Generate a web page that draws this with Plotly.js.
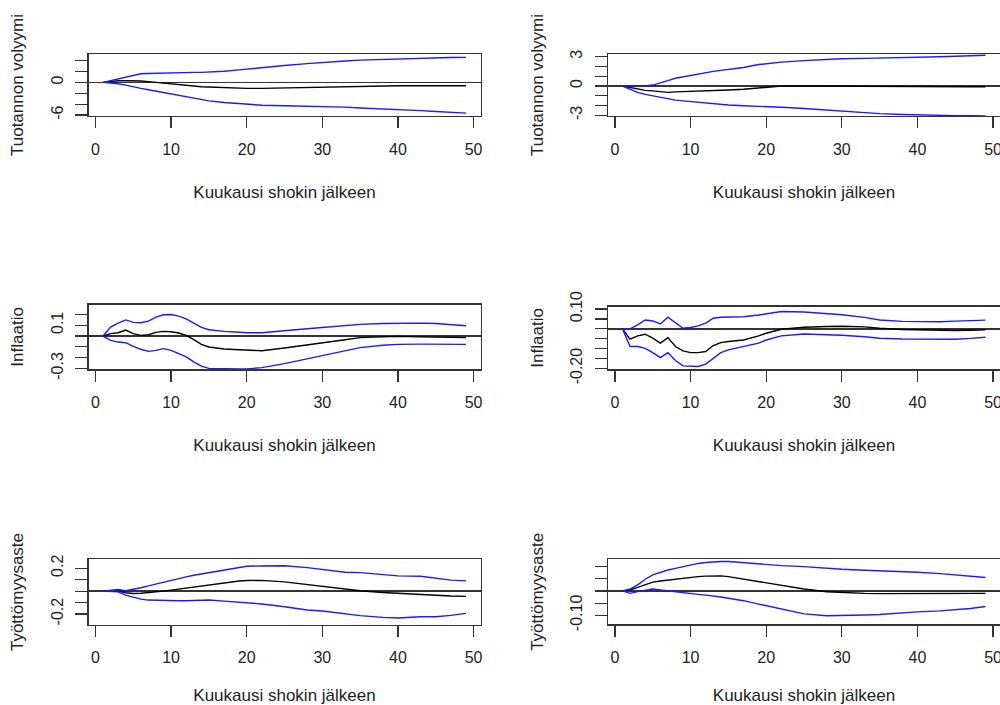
<!DOCTYPE html>
<html>
<head>
<meta charset="utf-8">
<script src="https://cdn.plot.ly/plotly-3.0.1.min.js"></script>
<style>html,body{margin:0;padding:0;background:#fff;}#chart{width:1000px;height:705px;}</style>
</head>
<body>
<div id="chart"></div>
<script>
// Months after the shock at which values were read
const months = [1,2,3,4,5,6,7,8,9,10,11,12,13,14,15,17,19,20,22,25,28,30,33,35,38,40,43,45,47,49];

// Panel 1: Tuotannon volyymi (left)
const up1  = [0,0.3,0.6,1.0,1.3,1.6,1.65,1.7,1.7,1.7,1.75,1.8,1.85,1.85,1.9,2.05,2.3,2.45,2.7,3.1,3.45,3.7,3.95,4.1,4.25,4.35,4.5,4.55,4.58,4.6];
const irf1 = [0,0.15,0.3,0.3,0.3,0.25,0.15,0.0,-0.15,-0.3,-0.45,-0.6,-0.7,-0.8,-0.85,-1.0,-1.1,-1.1,-1.1,-1.0,-0.9,-0.8,-0.75,-0.7,-0.65,-0.6,-0.6,-0.6,-0.6,-0.6];
const lo1  = [0,-0.1,-0.25,-0.5,-0.85,-1.1,-1.35,-1.6,-1.9,-2.2,-2.45,-2.7,-2.95,-3.2,-3.4,-3.7,-3.95,-4.05,-4.2,-4.3,-4.35,-4.4,-4.55,-4.7,-4.85,-5.0,-5.2,-5.35,-5.5,-5.65];

// Panel 2: Tuotannon volyymi (right)
const up2  = [0,0,0,0,0.1,0.3,0.55,0.8,0.95,1.1,1.25,1.4,1.5,1.6,1.7,1.9,2.2,2.3,2.45,2.6,2.72,2.8,2.83,2.85,2.9,2.95,3.0,3.05,3.1,3.15];
const irf2 = [0,-0.17,-0.34,-0.45,-0.5,-0.55,-0.65,-0.6,-0.58,-0.55,-0.52,-0.5,-0.45,-0.42,-0.4,-0.33,-0.2,-0.1,0.0,0.0,-0.02,-0.03,-0.04,-0.05,-0.05,-0.06,-0.06,-0.07,-0.07,-0.07];
const lo2  = [0,-0.34,-0.65,-0.85,-1.0,-1.2,-1.37,-1.45,-1.52,-1.6,-1.68,-1.76,-1.84,-1.9,-1.95,-2.02,-2.07,-2.1,-2.18,-2.3,-2.45,-2.6,-2.74,-2.83,-2.92,-2.97,-3.0,-3.03,-3.05,-3.07];

// Panel 3: Inflaatio (left)
const up3  = [0,0.083,0.12,0.15,0.127,0.123,0.139,0.176,0.198,0.2,0.185,0.16,0.12,0.08,0.059,0.043,0.035,0.031,0.031,0.052,0.068,0.08,0.097,0.108,0.117,0.12,0.12,0.117,0.11,0.096];
const irf3 = [0,0.022,0.031,0.056,0.022,0.006,0.012,0.034,0.043,0.04,0.028,0.006,-0.034,-0.077,-0.102,-0.12,-0.128,-0.13,-0.136,-0.111,-0.085,-0.065,-0.035,-0.015,-0.006,-0.003,-0.008,-0.012,-0.014,-0.015];
const lo3  = [0,-0.04,-0.056,-0.062,-0.096,-0.123,-0.142,-0.133,-0.117,-0.133,-0.164,-0.194,-0.24,-0.28,-0.3,-0.306,-0.306,-0.306,-0.293,-0.256,-0.21,-0.18,-0.135,-0.108,-0.085,-0.077,-0.075,-0.076,-0.077,-0.077];

// Panel 4: Inflaatio (right)
const up4  = [0,0,0.02,0.045,0.04,0.025,0.059,0.032,0.003,0.007,0.015,0.029,0.054,0.059,0.06,0.061,0.07,0.076,0.088,0.085,0.076,0.071,0.058,0.045,0.038,0.037,0.036,0.039,0.042,0.044];
const irf4 = [0,-0.052,-0.035,-0.027,-0.047,-0.072,-0.044,-0.089,-0.111,-0.12,-0.12,-0.114,-0.084,-0.069,-0.064,-0.056,-0.035,-0.022,-0.002,0.008,0.012,0.013,0.01,0.003,-0.003,-0.005,-0.007,-0.008,-0.007,-0.005];
const lo4  = [0,-0.089,-0.089,-0.098,-0.12,-0.145,-0.12,-0.16,-0.187,-0.19,-0.19,-0.178,-0.148,-0.12,-0.106,-0.089,-0.072,-0.056,-0.035,-0.026,-0.028,-0.032,-0.04,-0.047,-0.051,-0.052,-0.052,-0.052,-0.048,-0.042];

// Panel 5: Työttömyysaste (left)
const up5  = [0,0.009,0.014,0.003,0.014,0.03,0.046,0.063,0.08,0.096,0.11,0.125,0.139,0.15,0.162,0.188,0.206,0.217,0.22,0.222,0.205,0.188,0.165,0.162,0.148,0.133,0.13,0.11,0.096,0.09];
const irf5 = [0,0.003,0.0,-0.014,-0.02,-0.018,-0.014,-0.008,0.0,0.009,0.018,0.028,0.038,0.048,0.058,0.072,0.088,0.093,0.094,0.081,0.058,0.043,0.017,0.003,-0.012,-0.02,-0.032,-0.038,-0.043,-0.046];
const lo5  = [0,0.0,-0.006,-0.035,-0.055,-0.07,-0.078,-0.081,-0.083,-0.084,-0.084,-0.084,-0.084,-0.081,-0.078,-0.087,-0.097,-0.101,-0.112,-0.136,-0.165,-0.174,-0.2,-0.214,-0.229,-0.235,-0.223,-0.223,-0.212,-0.194];

// Panel 6: Työttömyysaste (right)
const up6  = [0,0.008,0.025,0.048,0.066,0.077,0.086,0.093,0.1,0.107,0.113,0.117,0.12,0.121,0.121,0.116,0.11,0.107,0.104,0.1,0.093,0.089,0.085,0.083,0.079,0.077,0.071,0.066,0.06,0.055];
const irf6 = [0,0.004,0.015,0.027,0.036,0.041,0.045,0.049,0.052,0.055,0.059,0.061,0.063,0.062,0.059,0.049,0.04,0.034,0.024,0.008,-0.003,-0.007,-0.01,-0.011,-0.011,-0.011,-0.011,-0.011,-0.01,-0.01];
const lo6  = [0,-0.01,-0.003,0.004,0.008,0.004,0.0,-0.003,-0.006,-0.01,-0.014,-0.017,-0.02,-0.025,-0.03,-0.04,-0.054,-0.061,-0.075,-0.094,-0.102,-0.102,-0.099,-0.097,-0.089,-0.086,-0.082,-0.078,-0.072,-0.064];

// Axis ticks and labels
const xTicks = [0,10,20,30,40,50];
const xTitle = "Kuukausi shokin jälkeen";
const yTitles = ["Tuotannon volyymi","Tuotannon volyymi","Inflaatio","Inflaatio","Työttömyysaste","Työttömyysaste"];
const yTicks1 = [-6,-4,-2,0,2,4];            const yText1 = ["-6","","","0","",""];
const yTicks2 = [-3,-2,-1,0,1,2,3];          const yText2 = ["-3","","","0","","","3"];
const yTicks3 = [-0.3,-0.2,-0.1,0,0.1,0.2];  const yText3 = ["-0.3","","","","0.1",""];
const yTicks4 = [-0.2,-0.15,-0.1,-0.05,0,0.05,0.1]; const yText4 = ["-0.20","","","","","","0.10"];
const yTicks5 = [-0.2,-0.1,0,0.1,0.2];       const yText5 = ["-0.2","","","","0.2"];
const yTicks6 = [-0.1,-0.05,0,0.05,0.1];     const yText6 = ["-0.10","","","",""];

const panels = [
  {up: up1, irf: irf1, lo: lo1, tv: yTicks1, tt: yText1, yr: [-6.18, 5.23]},
  {up: up2, irf: irf2, lo: lo2, tv: yTicks2, tt: yText2, yr: [-3.07, 3.28]},
  {up: up3, irf: irf3, lo: lo3, tv: yTicks3, tt: yText3, yr: [-0.309, 0.293]},
  {up: up4, irf: irf4, lo: lo4, tv: yTicks4, tt: yText4, yr: [-0.204, 0.113]},
  {up: up5, irf: irf5, lo: lo5, tv: yTicks5, tt: yText5, yr: [-0.293, 0.278]},
  {up: up6, irf: irf6, lo: lo6, tv: yTicks6, tt: yText6, yr: [-0.137, 0.13]}
];

// Layout geometry (pixel boxes of each panel)
const W = 1000, H = 705;
const colX = [[88.5, 480.5], [608, 1000]];
const rowY = [[54, 116], [54, 116], [304.5, 369.3], [306.5, 369.3], [559.3, 624.7], [559.3, 624.3]];

const TICKFONT = {family: "Liberation Sans, Arial, sans-serif", size: 16, color: "#222"};
const TITLEFONT = {family: "Liberation Sans, Arial, sans-serif", size: 17, color: "#222"};
const traces = [];
const layout = {
  width: W, height: H,
  margin: {l: 0, r: 0, t: 0, b: 0},
  paper_bgcolor: "#fff", plot_bgcolor: "#fff",
  showlegend: false,
  font: TICKFONT
};

panels.forEach((p, i) => {
  const n = i + 1;
  const xa = "x" + (n === 1 ? "" : n), ya = "y" + (n === 1 ? "" : n);
  const col = i % 2;
  [[p.irf, "#000000"], [p.up, "#1a1aff"], [p.lo, "#1a1aff"]].forEach(([vals, c]) => {
    traces.push({x: months, y: vals, xaxis: xa, yaxis: ya, type: "scatter", mode: "lines",
      line: {color: c, width: 1.4}, hoverinfo: "skip"});
  });
  const xk = "xaxis" + (n === 1 ? "" : n), yk = "yaxis" + (n === 1 ? "" : n);
  layout[xk] = {
    domain: [colX[col][0] / W, colX[col][1] / W],
    anchor: ya,
    range: [-0.92, 50.92],
    tickmode: "array", tickvals: xTicks, ticktext: xTicks.map(String),
    ticks: "outside", ticklen: 11, tickwidth: 1.2, tickcolor: "#333",
    ticklabelstandoff: 7,
    ticklabeloverflow: "allow",
    showline: true, mirror: true, linecolor: "#333", linewidth: 1.3,
    showgrid: false, zeroline: false,
    tickfont: TICKFONT,
    title: {text: xTitle, font: TITLEFONT, standoff: 29}
  };
  layout[yk] = {
    domain: [1 - rowY[i][1] / H, 1 - rowY[i][0] / H],
    anchor: xa,
    range: p.yr,
    tickmode: "array", tickvals: p.tv, ticktext: p.tt,
    tickangle: -90,
    ticks: "outside", ticklen: 12, tickwidth: 1.2, tickcolor: "#333",
    ticklabelstandoff: 6,
    ticklabeloverflow: "allow",
    showline: true, mirror: true, linecolor: "#333", linewidth: 1.3,
    showgrid: false,
    zeroline: true, zerolinecolor: "#333", zerolinewidth: 1.6,
    tickfont: TICKFONT,
    title: {text: yTitles[i], font: TITLEFONT, standoff: 20}
  };
});

Plotly.newPlot("chart", traces, layout, {displayModeBar: false, staticPlot: true});
</script>
</body>
</html>
